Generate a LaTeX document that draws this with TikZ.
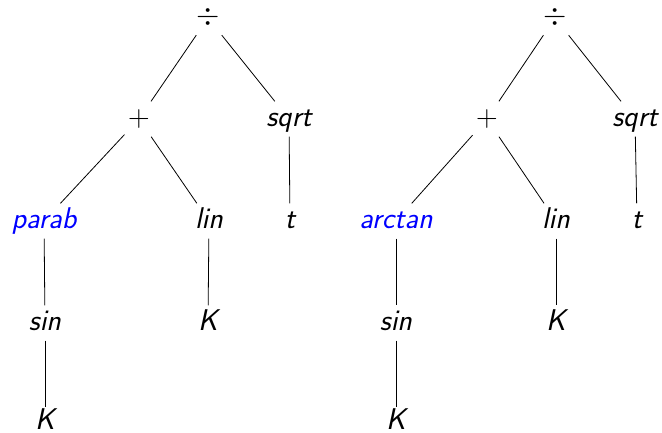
\RequirePackage{fix-cm}
\documentclass[tikz,border=0pt]{standalone}
\begin{document}
\begin{tikzpicture}[x=1pt,y=-1pt,
  tn/.style={inner sep=3.5pt, text height=21pt, text depth=7pt, anchor=base,
    font=\fontsize{30}{34}\selectfont\sffamily\itshape},
  rootn/.style={tn, text height=20pt},
  leafn/.style={tn, text depth=0pt, inner ysep=1pt},
  hl/.style={text=blue},
  ln/.style={draw=black, line width=0.8pt}]
\useasboundingbox (0,0) rectangle (662,432);

% left tree
\node[rootn] (d1) at (208,24.5) {$\div$};
\node[tn] (p1) at (139,126) {$+$};
\node[tn] (q1) at (289,126) {sqrt};
\node[tn,hl] (a1) at (44,228) {parab};
\node[tn] (l1) at (209,228) {lin};
\node[tn] (t1) at (290,228) {t};
\node[tn] (s1) at (45,330) {sin};
\node[tn] (k1) at (208,330) {K};
\node[leafn] (m1) at (45,429) {K};

\draw[ln] (d1) -- (p1);
\draw[ln] (d1) -- (q1);
\draw[ln] (p1) -- (a1);
\draw[ln] (p1) -- (l1);
\draw[ln] (q1) -- (t1);
\draw[ln] (a1) -- (s1);
\draw[ln] (l1) -- (k1);
\draw[ln] (s1) -- (m1.north -| s1);

% right tree
\node[rootn] (d2) at (555,24.5) {$\div$};
\node[tn] (p2) at (487,126) {$+$};
\node[tn] (q2) at (635,126) {sqrt};
\node[tn,hl] (a2) at (396,228) {arctan};
\node[tn] (l2) at (556,228) {lin};
\node[tn] (t2) at (637,228) {t};
\node[tn] (s2) at (396,330) {sin};
\node[tn] (k2) at (556,330) {K};
\node[leafn] (m2) at (396,429) {K};

\draw[ln] (d2) -- (p2);
\draw[ln] (d2) -- (q2);
\draw[ln] (p2) -- (a2);
\draw[ln] (p2) -- (l2);
\draw[ln] (q2) -- (t2);
\draw[ln] (a2) -- (s2);
\draw[ln] (l2) -- (k2);
\draw[ln] (s2) -- (m2.north -| s2);
\end{tikzpicture}
\end{document}
